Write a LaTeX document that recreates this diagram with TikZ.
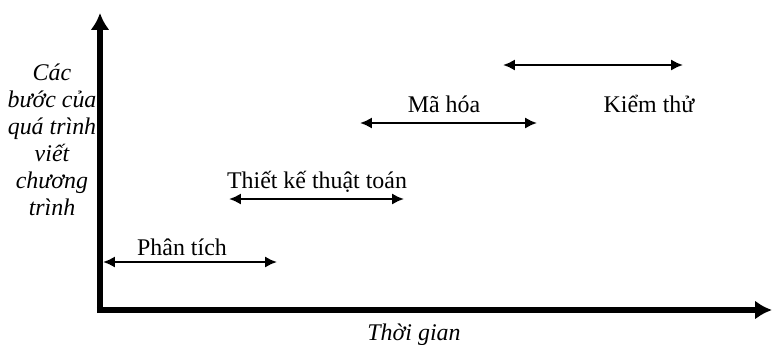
\documentclass[tikz,border=0pt]{standalone}
\usepackage{fontspec}
\setmainfont{Liberation Serif}
\usetikzlibrary{arrows.meta}

\begin{document}
\begin{tikzpicture}[x=0.025cm, y=-0.025cm,
            every node/.style={
                inner sep=0pt,
                font=\fontsize{17pt}{19.2pt}\selectfont
                },
            axis/.style={
                draw,
                line width=4.3pt,
                -{Latex[length=12pt,width=13.5pt]}
                },
            phase/.style={
                draw,
                line width=1.6pt,
                {Latex[length=8.5pt,width=8pt]}-{Latex[length=8.5pt,width=8pt]}
                }]

        \useasboundingbox (0,0) rectangle (773,344);

        % axes
        \coordinate (o) at (100,310);
        \coordinate (ytip) at (100,13);
        \coordinate (xtip) at (772,310);
        \draw[axis] ([yshift=-2.15pt]o) -- (ytip);
        \draw[axis] ([xshift=-2.15pt]o) -- (xtip);

        \node[align=center, font=\fontsize{17pt}{19.2pt}\selectfont\itshape, anchor=base] (ylabel) at (52,215)
            {Các\\bước của\\quá trình\\viết\\chương\\trình};
        \node[font=\fontsize{17pt}{19.2pt}\selectfont\itshape, anchor=base] (xlabel) at (414,340) {Thời gian};

        % phases
        \coordinate (pt1) at (103,262);
        \coordinate (pt2) at (277,262);
        \coordinate (tk1) at (229,199);
        \coordinate (tk2) at (404,199);
        \coordinate (mh1) at (360,123);
        \coordinate (mh2) at (537,123);
        \coordinate (kt1) at (503,65);
        \coordinate (kt2) at (683,65);

        \draw[phase] (pt1) -- (pt2);
        \draw[phase] (tk1) -- (tk2);
        \draw[phase] (mh1) -- (mh2);
        \draw[phase] (kt1) -- (kt2);

        \node[anchor=base] (phantich) at (182,255) {Phân tích};
        \node[anchor=base] (thietke) at (317,188) {Thiết kế thuật toán};
        \node[anchor=base] (mahoa) at (444,112) {Mã hóa};
        \node[anchor=base] (kiemthu) at (649,112) {Kiểm thử};

    \end{tikzpicture}
\end{document}
